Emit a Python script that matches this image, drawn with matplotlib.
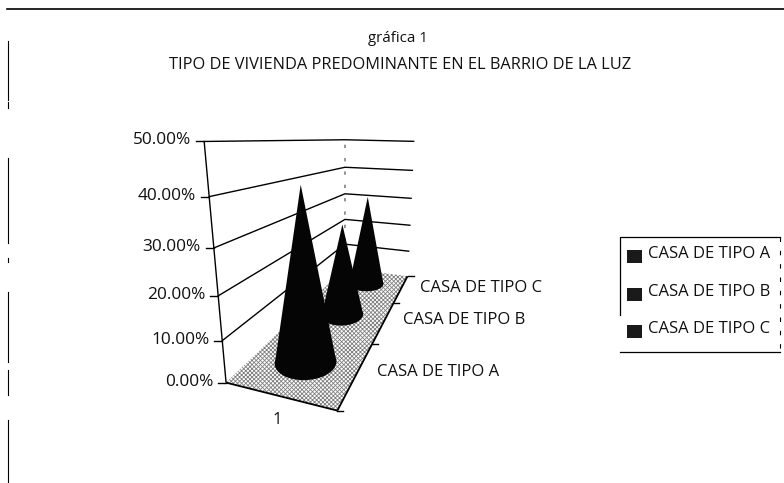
import numpy as np
import matplotlib
matplotlib.use("Agg")
import matplotlib.pyplot as plt
from matplotlib.patches import Polygon

# ---- data ----
series = ["CASA DE TIPO A", "CASA DE TIPO B", "CASA DE TIPO C"]
values = [41.5, 27.5, 31.5]
y_ticks = [0, 10, 20, 30, 40, 50]
y_labels = ["0.00%", "10.00%", "20.00%", "30.00%", "40.00%", "50.00%"]
x_label = "1"
title1 = "gráfica 1"
title2 = "TIPO DE VIVIENDA PREDOMINANTE EN EL BARRIO DE LA LUZ"

plt.rcParams["font.family"] = ["Open Sans", "DejaVu Sans"]
plt.rcParams["hatch.linewidth"] = 0.6

fig = plt.figure(figsize=(7.84, 4.83), dpi=100)
ax = fig.add_axes([0, 0, 1, 1])
ax.set_xlim(0, 784)
ax.set_ylim(483, 0)
ax.axis("off")

# ---- 3D oblique camera, fitted to where the scanned box edges fall ----
anchors = []
for t, xl, yl, yb, yr in zip(y_ticks, [227, 222, 218, 213, 209, 204],
                             [381, 340, 297, 247, 197, 142],
                             [270, 245, 218, 193, 167, 140],
                             [275, 252, 225, 197, 170, 143]):
    anchors.append((0, 0, t, xl, yl))
    anchors.append((0, 1, t, 345, yb))
    anchors.append((1, 1, t, 407 + 7 * t / 50, yr))
anchors.append((1, 0, 0, 338, 412))
A = []
for u, v, h, sx, sy in anchors:
    A.append([u, v, h, 1, 0, 0, 0, 0, -sx * u, -sx * v, -sx * h, -sx])
    A.append([0, 0, 0, 0, u, v, h, 1, -sy * u, -sy * v, -sy * h, -sy])
P = np.linalg.svd(np.array(A, float))[2][-1].reshape(3, 4)


def proj(u, v, h):
    u, v, h = np.broadcast_arrays(u, v, h)
    q = P @ np.vstack([u.ravel(), v.ravel(), h.ravel(), np.ones(u.size)])
    return q[0] / q[2], q[1] / q[2]


def line(p, q, **kw):
    x, y = proj(*zip(p, q))
    ax.plot(x, y, color="black", solid_capstyle="butt", **kw)


# floor
fx, fy = proj([0, 1, 1, 0], [0, 0, 1, 1], [0, 0, 0, 0])
ax.add_patch(Polygon(np.c_[fx, fy], closed=True, facecolor="white",
                     edgecolor="#808080", hatch="xxxxxxxx", lw=0, zorder=1))

# gridlines on the walls
for t in y_ticks[1:]:
    x, y = proj([0, 0, 1], [0, 1, 1], [t, t, t])
    ax.plot(x, y, color="black", lw=1.0, zorder=2)
# back corner
x, y = proj([0, 0], [1, 1], [0, 50])
ax.plot(x, y, color="#444444", lw=0.8, ls=(0, (3, 9)), zorder=2)

# axes
line((0, 0, 0), (0, 0, 50), lw=1.0, zorder=5)
line((0, 0, 0), (1, 0, 0), lw=1.3, zorder=5)
line((1, 0, 0), (1, 1, 0), lw=1.3, zorder=5)

for t, lab in zip(y_ticks, y_labels):
    x, y = proj(0, 0, t)
    ax.plot([x[0] - 8, x[0]], [y[0], y[0]], color="black", lw=1.0, zorder=5)
    ax.text(x[0] - 13, y[0] - 1, lab, ha="right", va="center", fontsize=12.4, color="#111111")

# category ticks and labels
n = len(series)
for k in range(n + 1):
    x, y = proj(1, k / n, 0)
    ax.plot([x[0], x[0] + 6], [y[0], y[0]], color="black", lw=1.0, zorder=5)
label_gap = [20, 19, 19]
for k, name in enumerate(series):
    x, y = proj(1, (k + 0.5) / n, 0)
    ax.text(x[0] + label_gap[k], y[0] - 1, name, ha="left", va="center",
            fontsize=12, color="#111111")
x, y = proj(0.5, 0, 0)
ax.text(x[0] - 2, y[0] + 24, x_label, ha="center", va="center", fontsize=12, color="#111111")

# cones, back to front
th = np.linspace(0, 2 * np.pi, 90)
base_u = [0.285, 0.24, 0.24]
for k in range(n - 1, -1, -1):
    cv = (k + 0.5) / n
    bx, by = proj(0.5 + base_u[k] * np.cos(th), cv + 0.09 * np.sin(th), 0)
    tx, ty = proj(0.5, cv, values[k])
    ax.fill(bx, by, color="#050505", lw=0, zorder=6 + n - k)
    i, j = np.argmin(bx), np.argmax(bx)
    ax.fill([bx[i], tx[0], bx[j]], [by[i], ty[0], by[j]], color="#050505", lw=0, zorder=6 + n - k)

# titles
ax.text(398, 39, title1, ha="center", va="center", fontsize=10.8, color="#111111")
ax.text(400, 65, title2, ha="center", va="center", fontsize=11.8, color="#111111")

# legend box
ax.plot([780, 620, 620], [237, 237, 315], color="black", lw=0.9)
ax.plot([620, 780], [352, 352], color="black", lw=0.9)
ax.plot([780, 780], [237, 352], color="black", lw=0.8, ls=(0, (4, 8)))
for yy, name in zip([256, 294, 331], series):
    ax.fill([627, 642, 642, 627], [yy - 6.5, yy - 6.5, yy + 6.5, yy + 6.5], color="#1a1a1a", lw=0)
    ax.text(648, yy - 2, name, ha="left", va="center", fontsize=12, color="#111111")

# scanned page rule
ax.plot([7, 784], [9, 9], color="black", lw=1.2)
for y0, y1 in [(41, 100), (102, 108), (158, 243), (258, 262),
               (292, 362), (370, 395), (420, 483)]:
    ax.plot([8, 8], [y0, y1], color="black", lw=0.8)

fig.savefig("out.png", dpi=100, facecolor="white")
